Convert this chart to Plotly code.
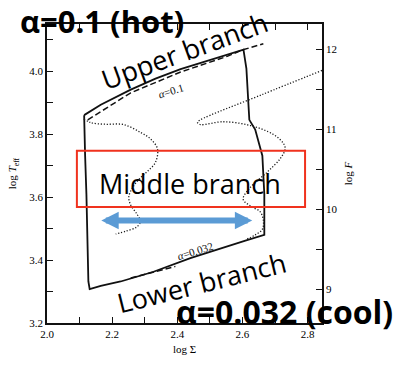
import plotly.graph_objects as go

# ---- data (log Sigma, log Teff) ----
solid_x = [2.114, 2.165, 2.257, 2.333, 2.410, 2.486, 2.553, 2.603, 2.612, 2.621, 2.639, 2.661, 2.667, 2.667, 2.667,
           2.609, 2.532, 2.440, 2.327, 2.226, 2.165, 2.131, 2.127, 2.125, 2.121, 2.117, 2.114]
solid_y = [3.861, 3.894, 3.942, 3.977, 4.007, 4.032, 4.055, 4.069, 4.009, 3.846, 3.815, 3.732, 3.609, 3.486, 3.480,
           3.462, 3.437, 3.406, 3.363, 3.332, 3.318, 3.308, 3.332, 3.455, 3.609, 3.732, 3.861]

dash_hot_x = [2.125, 2.257, 2.410, 2.553, 2.599, 2.664]
dash_hot_y = [3.846, 3.932, 3.998, 4.048, 4.068, 4.088]

dash_cool_x = [2.257, 2.318, 2.394]
dash_cool_y = [3.343, 3.360, 3.380]

dot1_x = [2.113, 2.135, 2.180, 2.235, 2.287, 2.318, 2.339, 2.333, 2.309, 2.287, 2.263, 2.251, 2.257, 2.275, 2.287, 2.275, 2.242, 2.211]
dot1_y = [3.849, 3.837, 3.832, 3.831, 3.806, 3.785, 3.754, 3.711, 3.683, 3.662, 3.631, 3.600, 3.575, 3.548, 3.523, 3.505, 3.492, 3.483]

dot2_x = [2.844, 2.657, 2.471, 2.462, 2.471, 2.541, 2.624, 2.694, 2.725, 2.731, 2.716, 2.676, 2.624, 2.602, 2.624, 2.654, 2.664, 2.661, 2.639, 2.609]
dot2_y = [4.003, 3.925, 3.846, 3.838, 3.831, 3.840, 3.828, 3.800, 3.772, 3.754, 3.723, 3.680, 3.631, 3.594, 3.572, 3.554, 3.526, 3.498, 3.480, 3.465]

x_ticks = [2.0, 2.1, 2.2, 2.3, 2.4, 2.5, 2.6, 2.7, 2.8]
x_labels = ["2.0", "", "2.2", "", "2.4", "", "2.6", "", "2.8"]
y_ticks = [3.2, 3.3, 3.4, 3.5, 3.6, 3.7, 3.8, 3.9, 4.0, 4.1]
y_labels = ["3.2", "", "3.4", "", "3.6", "", "3.8", "", "4.0", ""]
f_ticks = [9, 9.5, 10, 10.5, 11, 11.5, 12]
f_labels = ["9", "", "10", "", "11", "", "12"]

# ---- figure geometry (pixels) ----
W, H = 396, 366
L, R, T, B = 46, 322, 24, 333
XR = [2.0, 2.0 + (R - L) / 327.0]
YR = [3.2, 3.2 + (B - T) / 325.0]
FR = [9 - (B - 298) / 82.67, 12 + (50 - T) / 82.67]

def px(xp):
    return XR[0] + (xp - L) / 327.0

def py(yp):
    return YR[0] + (B - yp) / 325.0

def qx(xp):
    return (xp - L) / (R - L)

def qy(yp):
    return (B - yp) / (B - T)

ink = "#111111"
dots = dict(color="#1a1a1a", width=1.3, dash="1.2px,1.8px")
fig = go.Figure()
fig.add_trace(go.Scatter(x=solid_x, y=solid_y, mode="lines", line=dict(color=ink, width=1.8), hoverinfo="skip"))
fig.add_trace(go.Scatter(x=dash_hot_x, y=dash_hot_y, mode="lines", line=dict(color=ink, width=1.5, dash="6px,3px"), hoverinfo="skip"))
fig.add_trace(go.Scatter(x=dash_cool_x, y=dash_cool_y, mode="lines", line=dict(color=ink, width=1.5, dash="6px,3px"), hoverinfo="skip"))
fig.add_trace(go.Scatter(x=dot1_x, y=dot1_y, mode="lines", line=dots, line_shape="spline", hoverinfo="skip"))
fig.add_trace(go.Scatter(x=dot2_x, y=dot2_y, mode="lines", line=dots, line_shape="spline", hoverinfo="skip"))
fig.add_trace(go.Scatter(x=[None], y=[None], yaxis="y2", hoverinfo="skip"))

serif = "Liberation Serif"
tickfont = dict(family=serif, size=11, color="black")
titlefont = dict(family=serif, size=11, color="black")

fig.update_layout(
    width=W, height=H,
    margin=dict(l=L, r=W - R, t=T, b=H - B),
    paper_bgcolor="white", plot_bgcolor="white",
    showlegend=False,
    xaxis=dict(range=XR, tickvals=x_ticks, ticktext=x_labels, ticks="inside", ticklen=6, tickwidth=1.3,
               tickcolor=ink, showline=True, linecolor=ink, linewidth=1.5, mirror="ticks", showgrid=False,
               zeroline=False, tickfont=tickfont,
               title=dict(text="log Σ", font=titlefont, standoff=6)),
    yaxis=dict(range=YR, tickvals=y_ticks, ticktext=y_labels, ticks="inside", ticklen=6, tickwidth=1.3,
               tickcolor=ink, showline=True, linecolor=ink, linewidth=1.5, showgrid=False, zeroline=False,
               tickfont=tickfont,
               title=dict(text="log <i>T</i><sub>eff</sub>", font=titlefont, standoff=10)),
    yaxis2=dict(range=FR, overlaying="y", side="right", anchor="x", tickvals=f_ticks, ticktext=f_labels,
                ticks="inside", ticklen=6, tickwidth=1.3, tickcolor=ink, showline=True, linecolor=ink,
                linewidth=1.5, showgrid=False, zeroline=False, tickfont=tickfont,
                title=dict(text="log <i>F</i>", font=titlefont, standoff=8)),
)

# red box around middle branch
fig.add_shape(type="rect", xref="x", yref="y", x0=px(76), x1=px(305), y0=py(213), y1=py(155),
              line=dict(color="#f0321e", width=2))

# blue double arrow
fig.add_annotation(x=px(252), y=py(227), ax=px(99), ay=py(227), xref="x", yref="y", axref="x", ayref="y",
                   text="", showarrow=True, arrowhead=2, arrowside="end+start", arrowwidth=6, arrowsize=0.58,
                   arrowcolor="#5b9bd5", standoff=0, startstandoff=0)

sans = "Open Sans"
def txt(t, xp, yp, size, angle=0, bold=False, family=sans, color="black"):
    fig.add_annotation(x=qx(xp), y=qy(yp), xref="paper", yref="paper", text=("<b>%s</b>" % t) if bold else t,
                       showarrow=False, textangle=angle, font=dict(family=family, size=size, color=color),
                       xanchor="center", yanchor="middle")

txt("<i>α</i>=0.1", 170, 93, 11, -17, family=serif, color=ink)
txt("<i>α</i>=0.032", 195, 259, 11, -17, family=serif, color=ink)
txt("Upper branch", 184, 51, 27, -20)
txt("Lower branch", 201, 291, 27, -14)
txt("Middle branch", 190, 189, 27)
txt("α=0.1 (hot)", 101, 21, 31, bold=True)
txt("α=0.032 (cool)", 284, 321, 32, bold=True)

fig.write_html("out.html")
